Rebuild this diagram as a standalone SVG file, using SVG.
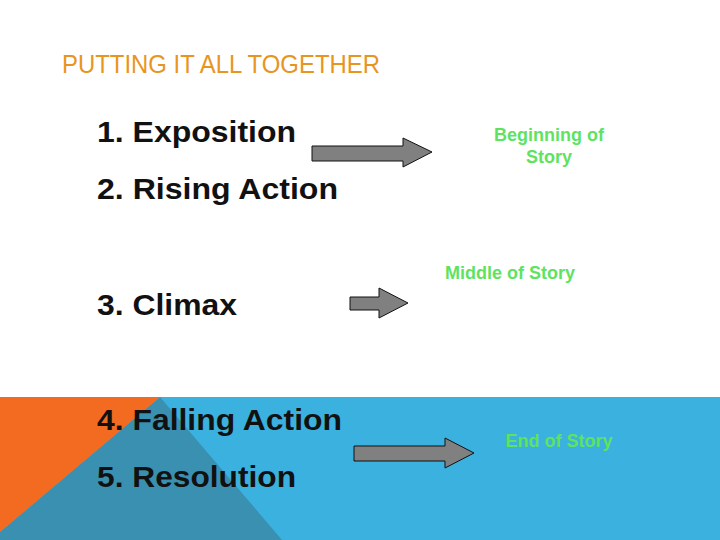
<svg xmlns="http://www.w3.org/2000/svg" width="720" height="540" viewBox="0 0 720 540">
<defs>
<style>
.item{font-family:"Liberation Sans",Arial,sans-serif;font-size:29px;font-weight:bold;fill:#111;lengthAdjust:spacingAndGlyphs}
.lbl{font-family:"Liberation Sans",Arial,sans-serif;font-size:18px;font-weight:bold;fill:#5fe35f;text-anchor:middle}
.arrow{fill:#808080;stroke:#111;stroke-width:1}
</style>
</defs>
<rect width="720" height="540" fill="#ffffff"/>
<g id="background">
<rect x="0" y="397" width="720" height="143" fill="#3AB1DE"/>
<polygon points="160,397 282,540 0,540 0,532" fill="#3A90B0"/>
<polygon points="0,397 160,397 0,532" fill="#F26B21"/>
</g>
<g id="title">
<text x="62" y="73" font-family="'Liberation Sans',Arial,sans-serif" font-size="25" fill="#E8951E" textLength="318" lengthAdjust="spacingAndGlyphs">PUTTING IT ALL TOGETHER</text>
</g>
<g id="items">
<text class="item" x="97" y="142" textLength="199" lengthAdjust="spacingAndGlyphs">1. Exposition</text>
<text class="item" x="97" y="199" textLength="241" lengthAdjust="spacingAndGlyphs">2. Rising Action</text>
<text class="item" x="97" y="315" textLength="140" lengthAdjust="spacingAndGlyphs">3. Climax</text>
<text class="item" x="97" y="430" textLength="245" lengthAdjust="spacingAndGlyphs">4. Falling Action</text>
<text class="item" x="97" y="487" textLength="199" lengthAdjust="spacingAndGlyphs">5. Resolution</text>
</g>
<g id="labels">
<text class="lbl" x="549" y="141">Beginning of</text>
<text class="lbl" x="549" y="163">Story</text>
<text class="lbl" x="510" y="279">Middle of Story</text>
<text class="lbl" x="559" y="447">End of Story</text>
</g>
<g id="connectors">
<polygon class="arrow" points="312,146 403,146 403,138 432,152 403,167 403,161 312,161"/>
<polygon class="arrow" points="350,297 379,297 379,288 408,303 379,318 379,310 350,310"/>
<polygon class="arrow" points="354,446 445,446 445,438 474,453 445,468 445,461 354,461"/>
</g>
</svg>
